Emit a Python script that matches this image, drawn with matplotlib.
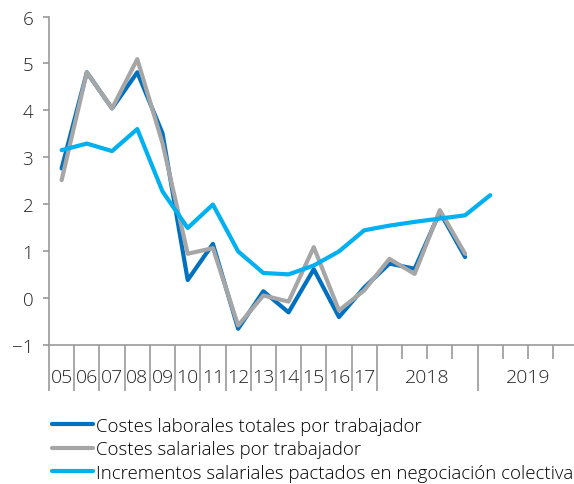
import matplotlib
matplotlib.use("Agg")
import matplotlib.pyplot as plt
import matplotlib.transforms as mtransforms

plt.rcParams['font.family'] = ['Open Sans', 'DejaVu Sans']
plt.rcParams['font.weight'] = 'light'

# categories: annual 2005-2017, then quarters of 2018 and 2019
years = ["05", "06", "07", "08", "09", "10", "11", "12", "13", "14", "15", "16", "17"]
groups = ["2018", "2019"]
n_quarters = 4

costes_laborales = [2.76, 4.81, 4.04, 4.81, 3.51, 0.38, 1.15, -0.66, 0.14, -0.31, 0.61, -0.41, 0.22,
                    0.73, 0.62, 1.83, 0.87]
costes_salariales = [2.51, 4.81, 4.04, 5.09, 3.30, 0.94, 1.06, -0.59, 0.05, -0.08, 1.08, -0.27, 0.16,
                     0.83, 0.51, 1.87, 0.94]
incrementos = [3.15, 3.29, 3.13, 3.60, 2.27, 1.49, 1.99, 0.99, 0.53, 0.50, 0.69, 0.99, 1.44,
               1.54, 1.62, 1.69, 1.76, 2.19]

labels = ["Costes laborales totales por trabajador",
          "Costes salariales por trabajador",
          "Incrementos salariales pactados en negociación colectiva"]
colors = ["#0070C0", "#A6A6A6", "#00B0F0"]

fig = plt.figure(figsize=(5.74, 4.85), dpi=100)
ax = fig.add_axes([0.0854, 0.2872, 0.9146, 0.6767])

series = [costes_laborales, costes_salariales, incrementos]
for vals, lab, col in zip(series, labels, colors):
    ax.plot(range(len(vals)), vals, color=col, lw=3.0, label=lab, solid_capstyle='round')

ax.set_xlim(-0.5, 20.32)
ax.set_ylim(-1, 6)
ax.set_yticks(range(-1, 7))

for s in ["top", "right"]:
    ax.spines[s].set_visible(False)
for s in ["left", "bottom"]:
    ax.spines[s].set_color("#999999")
    ax.spines[s].set_linewidth(1.2)

ax.tick_params(axis='y', direction='out', length=4.3, width=1.2, color="#999999",
               labelsize=13.5, pad=7, labelcolor="#222222")

# long separators between years / groups, short ones between quarters
major = [i - 0.5 for i in range(len(years) + 1)] + [len(years) + n_quarters - 0.5]
minor = []
for g in range(len(groups)):
    start = len(years) + g * n_quarters
    minor += [start + q + 0.5 for q in range(n_quarters - 1)]
ax.set_xticks(major)
ax.set_xticks(minor, minor=True)
ax.set_xticklabels([])
ax.tick_params(axis='x', which='major', direction='out', length=33, width=1.2, color="#999999")
ax.tick_params(axis='x', which='minor', direction='out', length=10, width=1.2, color="#999999")

trans = mtransforms.blended_transform_factory(ax.transData, ax.transAxes)
for i, y in enumerate(years):
    ax.text(i, -0.098, y, transform=trans, ha='center', va='center', fontsize=14, color="#222222")
for g, name in enumerate(groups):
    c = len(years) + g * n_quarters + (n_quarters - 1) / 2
    ax.text(c, -0.098, name, transform=trans, ha='center', va='center', fontsize=14, color="#222222")

fig.legend(loc='upper left', bbox_to_anchor=(0.0906, 0.139), frameon=False, fontsize=13.4,
           handlelength=2.2, handletextpad=0.17, labelspacing=0.3, borderaxespad=0,
           borderpad=0)

fig.savefig("out.png", dpi=100)
